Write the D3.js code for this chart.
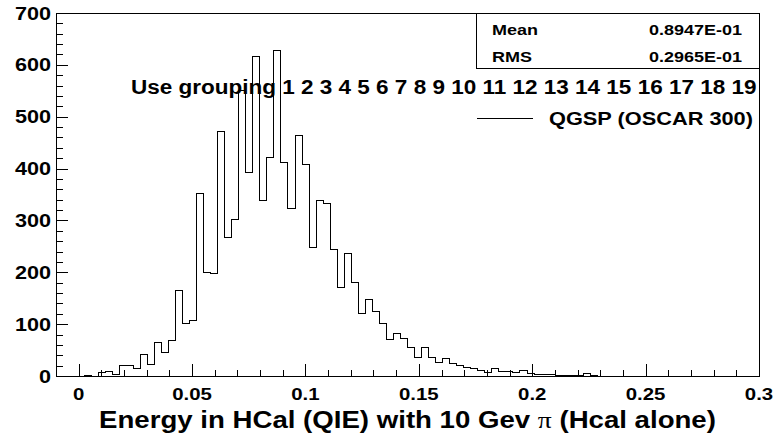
<!DOCTYPE html>
<html>
<head>
<meta charset="utf-8">
<script src="https://cdn.jsdelivr.net/npm/d3@7"></script>
<style>
  body { margin: 0; background: #fff; }
  svg { display: block; }
  text { font-family: "Liberation Sans", Arial, Helvetica, sans-serif; font-weight: bold; fill: #000; }
</style>
</head>
<body>
<svg id="chart" width="781" height="438"></svg>
<script>
// Histogram binning: 100 equal bins between binLow and binHigh
const binLow = -0.01;
const binHigh = 0.3;
const binCounts = [
  0, 0, 0, 0, 1, 0, 6, 9, 3, 20,
  20, 15, 42, 22, 64, 45, 68, 164, 101, 107,
  351, 200, 197, 472, 267, 302, 550, 392, 617, 339,
  421, 627, 411, 323, 463, 407, 247, 339, 333, 243,
  170, 237, 180, 121, 147, 125, 101, 70, 81, 72,
  54, 36, 54, 36, 26, 33, 24, 20, 16, 14,
  11, 7, 15, 8, 9, 6, 10, 5, 3, 3,
  2, 1, 1, 1, 1, 5, 1, 0, 0, 0,
  0, 0, 0, 0, 0, 0, 0, 0, 0, 0,
  0, 0, 0, 0, 0, 0, 0, 0, 0, 0
];

// Axis ticks and labels
const xMajorTicks = [0, 0.05, 0.1, 0.15, 0.2, 0.25, 0.3];
const xTickLabels = ["0", "0.05", "0.1", "0.15", "0.2", "0.25", "0.3"];
const yMajorTicks = [0, 100, 200, 300, 400, 500, 600, 700];
const yTickLabels = ["0", "100", "200", "300", "400", "500", "600", "700"];
const yMax = 700;

// Statistics box and annotations
const statNames = ["Mean", "RMS"];
const statValues = ["0.8947E-01", "0.2965E-01"];
const groupingText = "Use grouping 1 2 3 4 5 6 7 8 9 10 11 12 13 14 15 16 17 18 19";
const legendLabels = ["QGSP (OSCAR 300)"];
const titleBefore = "Energy in HCal (QIE) with 10 Gev ";
const titleSymbol = "\u03C0";
const titleAfter = " (Hcal alone)";

const svg = d3.select("#chart");
const frame = { left: 56, right: 759, top: 13, bottom: 376 };
const SX = 1.2; // horizontal stretch of the label lettering

const x = d3.scaleLinear().domain([binLow, binHigh]).range([frame.left, frame.right]);
const y = d3.scaleLinear().domain([0, yMax]).range([frame.bottom, frame.top]);

// ---- Histogram outline (step line) ----
const nBins = binCounts.length;
const binWidth = (binHigh - binLow) / nBins;
const pts = [[x(binLow), y(0)]];
binCounts.forEach((c, i) => {
  const lo = binLow + i * binWidth, hi = lo + binWidth;
  pts.push([x(lo), y(c)], [x(hi), y(c)]);
});
pts.push([x(binHigh), y(0)]);
svg.append("path")
  .attr("d", d3.line()(pts))
  .attr("fill", "none")
  .attr("stroke", "#000")
  .attr("stroke-width", 1)
  .attr("shape-rendering", "crispEdges");

// ---- Axes (ticks point into the frame) ----
const xMinor = d3.range(0, 31).map(k => +(binLow + k * 0.01).toFixed(2)).filter(v => !xMajorTicks.includes(v));
const yMinor = d3.range(0, yMax + 1, 20).filter(v => v % 100 !== 0);

const gx = svg.append("g").attr("transform", `translate(0,${frame.bottom})`);
gx.call(d3.axisBottom(x).tickValues(xMajorTicks).tickSize(-12).tickFormat(""));
const gxm = svg.append("g").attr("transform", `translate(0,${frame.bottom})`);
gxm.call(d3.axisBottom(x).tickValues(xMinor).tickSize(-6).tickFormat(""));

const gy = svg.append("g").attr("transform", `translate(${frame.left},0)`);
gy.call(d3.axisLeft(y).tickValues(yMajorTicks).tickSize(-12).tickFormat(""));
const gym = svg.append("g").attr("transform", `translate(${frame.left},0)`);
gym.call(d3.axisLeft(y).tickValues(yMinor).tickSize(-7).tickFormat(""));

svg.selectAll(".domain").remove();
svg.selectAll(".tick line").attr("stroke", "#000").attr("shape-rendering", "crispEdges");

// ---- Frame ----
svg.append("rect")
  .attr("x", frame.left + 0.5).attr("y", frame.top + 0.5)
  .attr("width", frame.right - frame.left).attr("height", frame.bottom - frame.top)
  .attr("fill", "none").attr("stroke", "#000").attr("stroke-width", 1)
  .attr("shape-rendering", "crispEdges");

// helper: stretched text placed at (px, py)
function stretchedText(px, py, str, size, anchor) {
  const g = svg.append("g").attr("transform", `translate(${px},${py}) scale(${SX},1)`);
  return g.append("text").attr("font-size", size).attr("text-anchor", anchor || "start").text(str);
}
// helper: text fitted to a given width
function fitWidth(sel, width, anchorX, baseY, anchor) {
  const w = sel.node().getComputedTextLength();
  const s = width / w;
  let tx = anchorX;
  sel.attr("text-anchor", anchor);
  sel.attr("transform", `translate(${tx},${baseY}) scale(${s},1)`);
}

// ---- Tick labels ----
xMajorTicks.forEach((v, i) => stretchedText(x(v), 400, xTickLabels[i], 17, "middle"));
yMajorTicks.forEach((v, i) => stretchedText(51, y(v) + 6.5, yTickLabels[i], 18, "end"));

// ---- Axis title ----
const title = svg.append("text").attr("font-size", 23);
title.append("tspan").text(titleBefore);
title.append("tspan").attr("font-family", "'Liberation Serif', 'Times New Roman', serif")
  .attr("font-weight", "normal").text(titleSymbol);
title.append("tspan").text(titleAfter);
fitWidth(title, 617, (frame.left + frame.right) / 2, 428, "middle");

// ---- Statistics box ----
svg.append("rect")
  .attr("x", 476.5).attr("y", frame.top + 0.5)
  .attr("width", frame.right - 476).attr("height", 55)
  .attr("fill", "#fff").attr("stroke", "#000").attr("shape-rendering", "crispEdges");
statNames.forEach((n, i) => {
  const by = 34.5 + i * 27.3;
  stretchedText(492, by, n, 15, "start");
  stretchedText(742, by, statValues[i], 15, "end");
});

// ---- Grouping annotation ----
const grp = svg.append("text").attr("font-size", 20).text(groupingText);
fitWidth(grp, 626, 131, 93.5, "start");

// ---- Legend ----
legendLabels.forEach((lab, i) => {
  const ly = 118 + i * 24;
  svg.append("line").attr("x1", 477).attr("x2", 533).attr("y1", ly + 0.5).attr("y2", ly + 0.5)
    .attr("stroke", "#000").attr("stroke-width", 1).attr("shape-rendering", "crispEdges");
  const t = svg.append("text").attr("font-size", 18).text(lab);
  fitWidth(t, 204, 549, ly + 6.5, "start");
});
</script>
</body>
</html>
